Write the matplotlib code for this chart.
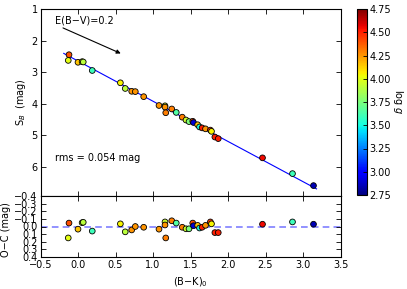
import matplotlib
matplotlib.use("Agg")
import matplotlib.pyplot as plt
import numpy as np

# (B-K)_0 colour
bk = [-0.12, -0.13, 0.00, 0.055, 0.07, 0.19, 0.565, 0.63, 0.716, 0.764, 0.876,
      1.08, 1.16, 1.16, 1.17, 1.25, 1.31, 1.39, 1.44, 1.48, 1.53, 1.54, 1.595,
      1.62, 1.655, 1.70, 1.765, 1.78, 1.825, 1.87, 2.46, 2.86, 3.14]
# surface brightness S_B (mag)
sb = [2.45, 2.63, 2.69, 2.67, 2.68, 2.95, 3.34, 3.52, 3.61, 3.62, 3.78,
      4.06, 4.07, 4.11, 4.29, 4.17, 4.28, 4.43, 4.52, 4.57, 4.56, 4.60, 4.67,
      4.74, 4.77, 4.80, 4.84, 4.88, 5.06, 5.11, 5.72, 6.22, 6.60]
# residuals O-C (mag)
oc = [-0.045, 0.15, 0.035, -0.05, -0.055, 0.06, -0.035, 0.07, 0.045, 0.0, 0.01,
      0.035, -0.06, -0.02, 0.15, -0.075, -0.045, 0.01, 0.03, 0.03, -0.045, -0.01, -0.015,
      0.02, 0.01, -0.015, -0.06, -0.035, 0.08, 0.08, -0.03, -0.06, -0.03]
# log g
logg = [4.4, 4.0, 4.15, 3.95, 3.9, 3.6, 4.05, 3.9, 4.25, 4.25, 4.25,
        4.25, 3.95, 4.25, 4.3, 4.3, 3.65, 4.3, 3.95, 3.75, 4.4, 2.9, 4.15,
        3.5, 4.5, 4.25, 4.45, 4.05, 4.5, 4.5, 4.55, 3.6, 2.85]

# linear fit S_B = a + b*(B-K)
fit_a, fit_b = 2.65, 1.275
fit_x = [-0.19, 3.18]

xticks = [-0.5, 0.0, 0.5, 1.0, 1.5, 2.0, 2.5, 3.0, 3.5]
sb_ticks = [1, 2, 3, 4, 5, 6]
oc_ticks = [-0.4, -0.3, -0.2, -0.1, 0.0, 0.1, 0.2, 0.3, 0.4]
cb_ticks = [2.75, 3.00, 3.25, 3.50, 3.75, 4.00, 4.25, 4.50, 4.75]

plt.rcParams['font.family'] = ['DejaVu Sans']
fs = 7
W, H = 407, 289
fig = plt.figure(figsize=(W / 100, H / 100), dpi=100)

def px(l, t, r, b):
    return [l / W, 1 - b / H, (r - l) / W, (b - t) / H]

ax1 = fig.add_axes(px(40.5, 9, 340.5, 196))
ax2 = fig.add_axes(px(40.5, 196, 340.5, 257))
cax = fig.add_axes(px(356.7, 9, 366.7, 195))

cmap = plt.get_cmap('jet')
fx = np.array(fit_x)
ax1.plot(fx, fit_a + fit_b * fx, color='blue', lw=0.8, zorder=1)
sc = ax1.scatter(bk, sb, c=logg, cmap=cmap, vmin=2.75, vmax=4.75, s=17,
                 edgecolors='k', linewidths=0.6, zorder=2)
ax1.set_xlim(-0.5, 3.5)
ax1.set_ylim(6.93, 1)
ax1.set_xticks(xticks)
ax1.set_xticklabels([])
ax1.set_yticks(sb_ticks)
ax1.set_ylabel('S$_B$  (mag)', fontsize=fs)
ax1.yaxis.set_label_coords(-0.043, 0.5)
ax1.annotate('', xy=(0.57, 2.41), xytext=(-0.2, 1.6),
             arrowprops=dict(arrowstyle='-|>', color='k', lw=0.8,
                             mutation_scale=6, shrinkA=0, shrinkB=0))
ax1.text(-0.31, 1.38, 'E(B\u2212V)=0.2', fontsize=fs, ha='left', va='center')
ax1.text(-0.31, 5.71, 'rms = 0.054 mag', fontsize=fs, ha='left', va='center')

ax2.axhline(0, color='blue', ls='--', dashes=(4, 2.5), alpha=0.5, lw=1.2, zorder=1)
ax2.scatter(bk, oc, c=logg, cmap=cmap, vmin=2.75, vmax=4.75, s=17,
            edgecolors='k', linewidths=0.6, zorder=2)
ax2.set_xlim(-0.5, 3.5)
ax2.set_ylim(0.4, -0.4)
ax2.set_xticks(xticks)
ax2.set_xticklabels(['\u22120.5', '0.0', '0.5', '1.0', '1.5', '2.0', '2.5', '3.0', '3.5'])
ax2.set_yticks(oc_ticks)
ax2.set_yticklabels([('\u2212%.1f' % abs(v)) if v < 0 else '%.1f' % v for v in oc_ticks])
ax2.set_xlabel('(B\u2212K)$_0$', fontsize=fs)
ax2.set_ylabel('O\u2212C (mag)', fontsize=fs)
ax2.yaxis.set_label_coords(-0.097, 0.45)

for ax in (ax1, ax2):
    ax.tick_params(direction='in', top=True, right=True, labelsize=fs,
                   length=3.5, width=0.6, pad=2)
    for s in ax.spines.values():
        s.set_linewidth(0.8)

cb = fig.colorbar(sc, cax=cax, ticks=cb_ticks, format='%.2f')
cb.ax.tick_params(labelsize=fs, direction='in', length=3, width=0.6, pad=2)
cb.outline.set_linewidth(0.8)
cb.set_label('log $g$', fontsize=fs, rotation=270, labelpad=10)

fig.savefig('out.png', dpi=100)
